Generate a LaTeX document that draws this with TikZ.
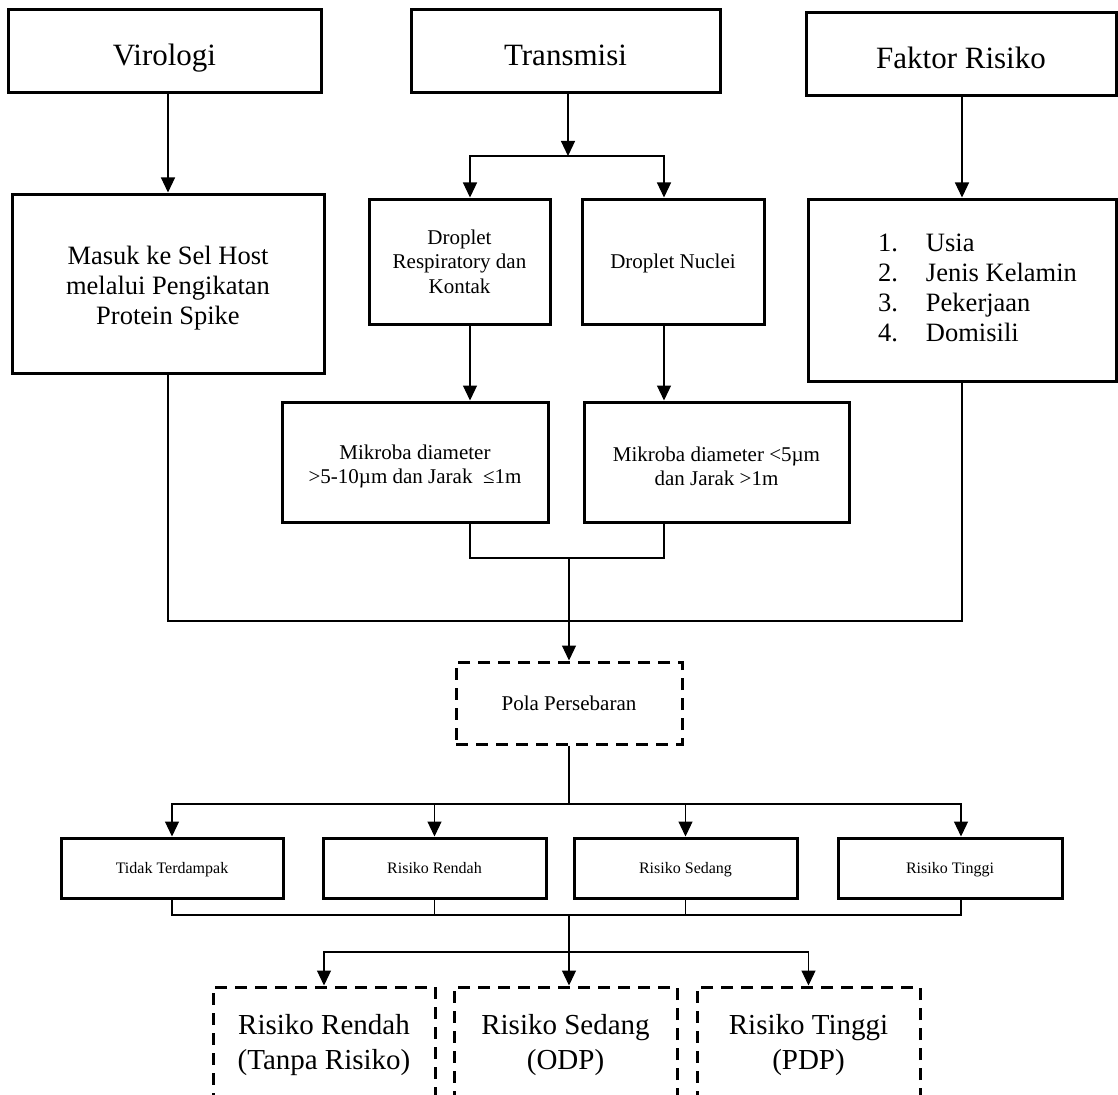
\documentclass[tikz,border=0pt]{standalone}
\usepackage{fontspec}
\setmainfont{Liberation Serif}
\usetikzlibrary{arrows.meta,calc}

\newcommand{\judulsize}{\fontsize{31}{36}\selectfont}
\newcommand{\isisize}{\fontsize{26.5}{30}\selectfont}
\newcommand{\kecilsize}{\fontsize{21}{24.5}\selectfont}
\newcommand{\mungilsize}{\fontsize{16}{19}\selectfont}
\newcommand{\akhirsize}{\fontsize{29}{35}\selectfont}

\begin{document}
\begin{tikzpicture}[x=1pt, y=-1pt, >={Triangle[width=14pt,length=15pt]},
  solidbox/.style={draw, line width=3pt, align=center, inner sep=0pt},
  dashbox/.style={solidbox, dash pattern=on 12pt off 8pt},
  judul/.style={solidbox, minimum height=83pt, font=\judulsize, text height=28pt, text depth=0pt},
  conn/.style={line width=1.2pt}]

\clip (0,0) rectangle (1118,1094);

% top row
\node[judul, minimum width=313pt] at (164.5, 51.5) (VIROLOGI) {Virologi};
\node[judul, minimum width=309pt] at (565.5, 51.5) (TRANSMISI) {Transmisi};
\node[judul, minimum width=310pt] at (961, 54.5) (FAKTOR) {Faktor Risiko};

% second row
\node[solidbox, minimum width=312pt, minimum height=179pt, font=\isisize, text height=88pt] at (168, 283.5) (MASUK)
  {Masuk ke Sel Host\\melalui Pengikatan\\Protein Spike};
\node[solidbox, minimum width=181pt, minimum height=125pt, font=\kecilsize] at (459.5, 261.5) (DROPRESP)
  {Droplet\\Respiratory dan\\Kontak};
\node[solidbox, minimum width=182pt, minimum height=125pt, font=\kecilsize, text depth=0pt] at (673, 261.5) (DROPNUC)
  {Droplet Nuclei};
\node[solidbox, minimum width=308pt, minimum height=182pt, font=\isisize] at (962, 290) (LIST)
  {\hspace*{31pt}\begin{tabular}{@{}l@{\hspace{28pt}}l@{}}
    1. & Usia\\ 2. & Jenis Kelamin\\ 3. & Pekerjaan\\ 4. & Domisili
  \end{tabular}};

% mikroba
\node[solidbox, minimum width=266pt, minimum height=120pt, font=\kecilsize, text height=48pt] at (415, 462) (MIKRO1)
  {Mikroba diameter\\>5-10µm dan Jarak \ ≤1m};
\node[solidbox, minimum width=265pt, minimum height=120pt, font=\kecilsize, text height=48pt] at (716.5, 462) (MIKRO2)
  {Mikroba diameter <5µm\\dan Jarak >1m};

\node[dashbox, minimum width=226pt, minimum height=82pt, font=\kecilsize] at (569, 703) (POLA) {Pola Persebaran};

% risk levels
\node[solidbox, minimum width=222pt, minimum height=60pt, font=\mungilsize, text depth=0pt] at (172, 868) (TIDAK) {Tidak Terdampak};
\node[solidbox, minimum width=223pt, minimum height=60pt, font=\mungilsize, text depth=0pt] at (434.5, 868) (RENDAH) {Risiko Rendah};
\node[solidbox, minimum width=223pt, minimum height=60pt, font=\mungilsize, text depth=0pt] at (685.5, 868) (SEDANG) {Risiko Sedang};
\node[solidbox, minimum width=224pt, minimum height=60pt, font=\mungilsize, text depth=0pt] at (950, 868) (TINGGI) {Risiko Tinggi};

\node[dashbox, minimum width=222pt, minimum height=110pt, font=\akhirsize, text height=61pt] at (324, 1042) (HASILRENDAH) {Risiko Rendah\\(Tanpa Risiko)};
\node[dashbox, minimum width=223pt, minimum height=110pt, font=\akhirsize, text height=61pt] at (565.5, 1042) (HASILSEDANG) {Risiko Sedang\\(ODP)};
\node[dashbox, minimum width=223pt, minimum height=110pt, font=\akhirsize, text height=61pt] at (808.5, 1042) (HASILTINGGI) {Risiko Tinggi\\(PDP)};

% junction points
\coordinate (TSPLIT) at (568, 156);
\coordinate (LEFTX) at (470, 0);
\coordinate (RIGHTX) at (664, 0);
\coordinate (JOIN1) at (569, 558);
\coordinate (JOIN2) at (569, 621);
\coordinate (SPLIT2) at (569, 804);
\coordinate (JOIN3) at (569, 915);
\coordinate (SPLIT3) at (569, 952);

% connectors
\draw[conn, ->] (VIROLOGI.south -| MASUK.north) -- (MASUK.north);
\draw[conn, ->] (TRANSMISI.south -| TSPLIT) -- (TSPLIT);
\draw[conn, ->] (TSPLIT) -| (DROPRESP.north -| LEFTX);
\draw[conn, ->] (TSPLIT) -| (DROPNUC.north -| RIGHTX);
\draw[conn, ->] (FAKTOR.south -| LIST.north) -- (LIST.north);

\draw[conn, ->] (DROPRESP.south -| LEFTX) -- (MIKRO1.north -| LEFTX);
\draw[conn, ->] (DROPNUC.south -| RIGHTX) -- (MIKRO2.north -| RIGHTX);
\draw[conn] (MIKRO1.south -| LEFTX) |- (JOIN1) -| (MIKRO2.south -| RIGHTX);
\draw[conn] (MASUK.south) |- (JOIN2) -| (LIST.south);
\draw[conn, ->] (JOIN1) -- (POLA.north);

\draw[conn] (POLA.south) -- (SPLIT2);
\draw[conn, ->] (SPLIT2) -| (TIDAK.north);
\draw[conn, ->] (SPLIT2) -| (RENDAH.north);
\draw[conn, ->] (SPLIT2) -| (SEDANG.north);
\draw[conn, ->] (SPLIT2) -| ($(TINGGI.north)+(11,0)$);

\draw[conn] (TIDAK.south) |- (JOIN3) -| ($(TINGGI.south)+(11,0)$);
\draw[conn] (RENDAH.south) -- (RENDAH.south |- JOIN3);
\draw[conn] (SEDANG.south) -- (SEDANG.south |- JOIN3);
\draw[conn] (JOIN3) -- (SPLIT3);
\draw[conn, ->] (SPLIT3) -| (HASILRENDAH.north);
\draw[conn, ->] (SPLIT3) -| (HASILTINGGI.north);
\draw[conn, ->] (SPLIT3) -- (HASILSEDANG.north -| SPLIT3);
\end{tikzpicture}
\end{document}
